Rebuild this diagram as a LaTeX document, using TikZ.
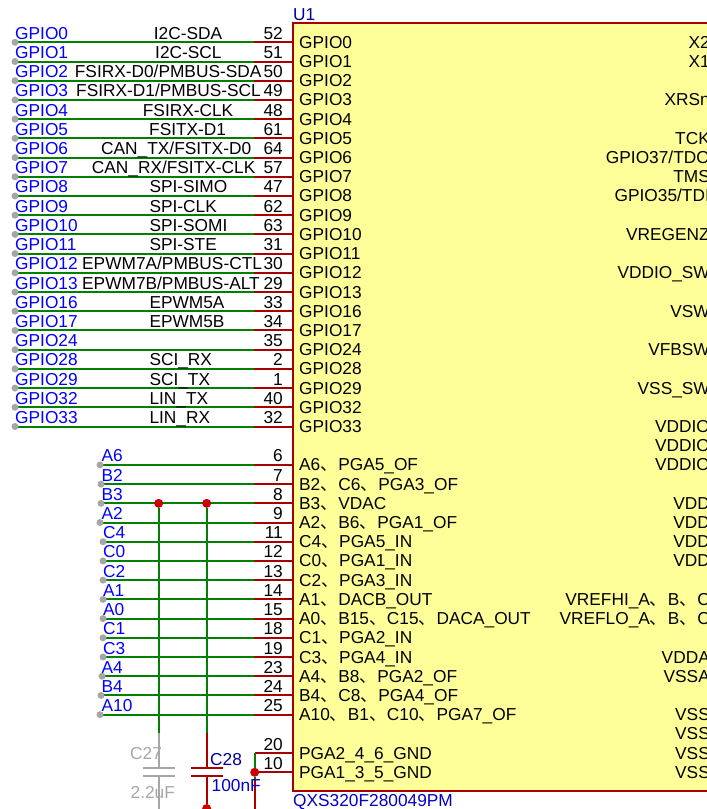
\documentclass[tikz,border=0pt]{standalone}
\usepackage{fontspec}
\setmainfont{Liberation Sans}
\newfontfamily\cjk{Noto Sans CJK SC}
\newcommand{\dun}{{\cjk 、}\hspace{0.6pt}}
\definecolor{wire red}{HTML}{A80000}
\definecolor{wire green}{HTML}{008000}
\definecolor{body yellow}{HTML}{FFFF99}
\definecolor{net blue}{HTML}{0000FF}
\definecolor{ref blue}{HTML}{000099}
\definecolor{part gray}{HTML}{A6A6A6}
\tikzset{
  pin text/.style={inner sep=0pt, font=\fontsize{17.3}{19}\selectfont},
  net label/.style={pin text, anchor=base west, text=net blue},
  func label/.style={pin text, anchor=base west},
  pin number/.style={pin text, anchor=base east},
  left name/.style={pin text, anchor=base west},
  right name/.style={pin text, anchor=base east},
  green wire/.style={wire green, line width=2pt},
  red wire/.style={wire red, line width=2pt},
  gray wire/.style={part gray, line width=2pt},
  end dot/.style={circle, fill=part gray, inner sep=0pt, minimum size=7pt},
  junction/.style={circle, fill=red!80!black, inner sep=0pt, minimum size=9pt},
}

\begin{document}
\begin{tikzpicture}[x=1pt, y=-1pt]
      \useasboundingbox (0,0) rectangle (707,809);
      \clip (0,0) rectangle (707,809);

      \draw[wire red, line width=2pt, fill=body yellow] (293.3,23) rectangle (760,791);
      \node[pin text, anchor=base west, text=ref blue] (U1) at (293,20) {U1};
      \node[pin text, anchor=base west, text=net blue!80!black] (partname) at (293,806.7) {QXS320F280049PM};

      % GPIO rows
      \foreach \row/\net/\func/\fx/\num in {
        0/GPIO0/I2C-SDA/153.7/52, 1/GPIO1/I2C-SCL/155/51,
        2/GPIO2/{FSIRX-D0/PMBUS-SDA}/74.7/50, 3/GPIO3/{FSIRX-D1/PMBUS-SCL}/76/49,
        4/GPIO4/FSIRX-CLK/142.7/48, 5/GPIO5/FSITX-D1/149/61,
        6/GPIO6/{CAN\_TX/FSITX-D0}/101/64, 7/GPIO7/{CAN\_RX/FSITX-CLK}/91.7/57,
        8/GPIO8/SPI-SIMO/149.3/47, 9/GPIO9/SPI-CLK/149.3/62,
        10/GPIO10/SPI-SOMI/149.3/63, 11/GPIO11/SPI-STE/149.3/31,
        12/GPIO12/{EPWM7A/PMBUS-CTL}/82/30, 13/GPIO13/{EPWM7B/PMBUS-ALT}/82/29,
        14/GPIO16/EPWM5A/149.3/33, 15/GPIO17/EPWM5B/149.3/34,
        16/GPIO24/{}/149.3/35, 17/GPIO28/SCI\_RX/149.3/2,
        18/GPIO29/SCI\_TX/149.3/1, 19/GPIO32/LIN\_TX/149.3/40,
        20/GPIO33/LIN\_RX/149.3/32} {
        \pgfmathsetmacro{\wy}{42.3+19.21*\row}
        \coordinate (end\row) at (15,\wy);
        \coordinate (bend\row) at (254,\wy);
        \coordinate (pin\row) at (293.3,\wy);
        \draw[green wire] (end\row) -- (bend\row);
        \draw[red wire] (bend\row) -- (pin\row);
        \node[end dot] (dot\row) at (end\row) {};
        \node[net label] (net\row) at (15,\wy-3) {\net};
        \node[func label] (func\row) at (\fx,\wy-3) {\func};
        \node[pin number] (num\row) at (283,\wy-3) {\num};
        \node[left name] (name\row) at (299,\wy+6) {\net};
      }

      % analog rows
      \foreach \row/\net/\ex/\tx/\num/\pname in {
        22/A6/100/101.5/6/{A6\dun PGA5\_OF},
        23/B2/101/101.5/7/{B2\dun C6\dun PGA3\_OF},
        24/B3/101/101.5/8/{B3\dun VDAC},
        25/A2/100/101.5/9/{A2\dun B6\dun PGA1\_OF},
        26/C4/103/103/11/{C4\dun PGA5\_IN},
        27/C0/103/103/12/{C0\dun PGA1\_IN},
        28/C2/103/103/13/{C2\dun PGA3\_IN},
        29/A1/103/103/14/{A1\dun DACB\_OUT},
        30/A0/103/103/15/{A0\dun B15\dun C15\dun DACA\_OUT},
        31/C1/103/103/18/{C1\dun PGA2\_IN},
        32/C3/103/103/19/{C3\dun PGA4\_IN},
        33/A4/102/101.5/23/{A4\dun B8\dun PGA2\_OF},
        34/B4/101/101.5/24/{B4\dun C8\dun PGA4\_OF},
        35/A10/100/101.5/25/{A10\dun B1\dun C10\dun PGA7\_OF}} {
        \pgfmathsetmacro{\wy}{42.3+19.21*\row}
        \coordinate (end\row) at (\ex,\wy);
        \coordinate (bend\row) at (254,\wy);
        \coordinate (pin\row) at (293.3,\wy);
        \draw[green wire] (end\row) -- (bend\row);
        \draw[red wire] (bend\row) -- (pin\row);
        \node[end dot] (dot\row) at (end\row) {};
        \node[net label] (net\row) at (\tx,\wy-3) {\net};
        \node[pin number] (num\row) at (283,\wy-3) {\num};
        \node[left name] (name\row) at (299,\wy+6) {\pname};
      }

      % right side names, the pins are outside the picture
      \foreach \row/\pname in {
        0/X2, 1/X1, 3/XRSn, 5/TCK, 6/GPIO37\slash TDO, 7/TMS, 8/GPIO35\slash TDI,
        10/VREGENZ, 12/VDDIO\_SW, 14/VSW, 16/VFBSW, 18/VSS\_SW,
        20/VDDIO, 21/VDDIO, 22/VDDIO, 24/VDD, 25/VDD, 26/VDD, 27/VDD,
        29/{VREFHI\_A\dun B\dun C}, 30/{VREFLO\_A\dun B\dun C},
        32/VDDA, 33/VSSA, 35/VSS, 36/VSS, 37/VSS, 38/VSS} {
        \pgfmathsetmacro{\wy}{42.3+19.21*\row}
        \node[right name] (rname\row) at (710,\wy+6) {\pname};
      }

      % grounds of the amplifiers
      \pgfmathsetmacro{\wya}{42.3+19.21*37}
      \pgfmathsetmacro{\wyb}{42.3+19.21*38}
      \coordinate (pin37) at (293.3,\wya);
      \coordinate (pin38) at (293.3,\wyb);
      \coordinate (bend37) at (254.7,\wya);
      \coordinate (gnd a) at (254.7,780);
      \coordinate (gnd b) at (254.7,812);
      \node[junction] (j3) at (254.7,\wyb) {};
      \draw[red wire] (pin37) -- (bend37);
      \draw[red wire] (pin38) -- (j3);
      \draw[green wire] (bend37) -- (j3);
      \draw[green wire] (j3) -- (gnd a);
      \draw[red wire] (gnd a) -- (gnd b);
      \node[pin number] (num37) at (283,\wya-3) {20};
      \node[pin number] (num38) at (283,\wyb-3) {10};
      \node[left name] (name37) at (299,\wya+6) {PGA2\_4\_6\_GND};
      \node[left name] (name38) at (299,\wyb+6) {PGA1\_3\_5\_GND};

      % the two capacitors
      \pgfmathsetmacro{\wyc}{42.3+19.21*24}
      \node[junction] (j1) at (158.7,\wyc) {};
      \node[junction] (j2) at (206.7,\wyc) {};
      \node[junction] (j4) at (206.7,808.5) {};
      \coordinate (c27 top) at (158.7,733);
      \coordinate (c27 a) at (158.7,768);
      \coordinate (c27 b) at (158.7,776);
      \coordinate (c27 end) at (158.7,812);
      \coordinate (c27 al) at (143,768);
      \coordinate (c27 ar) at (175,768);
      \coordinate (c27 bl) at (143,776);
      \coordinate (c27 br) at (175,776);
      \coordinate (c28 top) at (206.7,733);
      \coordinate (c28 a) at (206.7,768);
      \coordinate (c28 b) at (206.7,776);
      \coordinate (c28 al) at (191,768);
      \coordinate (c28 ar) at (223,768);
      \coordinate (c28 bl) at (191,776);
      \coordinate (c28 br) at (223,776);
      \draw[green wire] (j1) -- (c27 top);
      \draw[gray wire] (c27 top) -- (c27 a);
      \draw[gray wire] (c27 al) -- (c27 ar);
      \draw[gray wire] (c27 bl) -- (c27 br);
      \draw[gray wire] (c27 b) -- (c27 end);
      \draw[green wire] (j2) -- (c28 top);
      \draw[red wire] (c28 top) -- (c28 a);
      \draw[red wire] (c28 al) -- (c28 ar);
      \draw[red wire] (c28 bl) -- (c28 br);
      \draw[red wire] (c28 b) -- (j4);
      \node[pin text, anchor=base west, text=part gray] (C27) at (130,759) {C27};
      \node[pin text, anchor=base west, text=part gray] (C27val) at (130.5,798) {2.2uF};
      \node[pin text, anchor=base west, text=ref blue] (C28) at (210,765.7) {C28};
      \node[pin text, anchor=base west, text=net blue!80!black] (C28val) at (211.5,791.7) {100nF};
\end{tikzpicture}
\end{document}
